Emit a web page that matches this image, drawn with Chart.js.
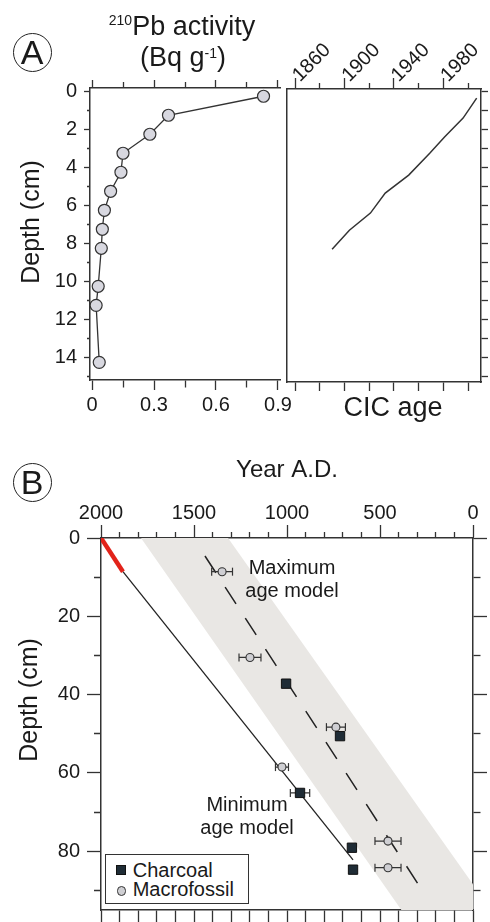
<!DOCTYPE html>
<html>
<head>
<meta charset="utf-8">
<title>210Pb profile and age models</title>
<script src="https://cdn.jsdelivr.net/npm/chart.js"></script>
<style>
  html, body { margin: 0; padding: 0; background: #fff; }
  body { width: 490px; height: 922px; position: relative; overflow: hidden;
         font-family: "Liberation Sans", Arial, sans-serif; color: #1a1a1a; }
  canvas { position: absolute; }
  .txt { position: absolute; white-space: nowrap; text-align: center; }
  .big { font-size: 27px; line-height: 30px; }
  .note { font-size: 20px; line-height: 23px; }
  .sup { font-size: 14px; position: relative; }
  .rot { transform: rotate(-90deg); font-size: 25px; line-height: 30px; width: 160px; height: 30px; }
  .badge { position: absolute; box-sizing: border-box; width: 39px; height: 39px; border: 1.3px solid #222;
           border-radius: 50%; font-size: 34px; line-height: 36px; text-align: center; }
  .legend { position: absolute; box-sizing: border-box; border: 1.3px solid #333; background: #fff; }
  .legend div { position: absolute; }
</style>
</head>
<body>
<canvas id="pbChart" width="300" height="430" style="left:0;top:0"></canvas>
<canvas id="cicChart" width="210" height="430" style="left:280px;top:0"></canvas>
<canvas id="ageChart" width="490" height="482" style="left:0;top:440px"></canvas>

<div class="badge" style="left:12.5px;top:33px">A</div>
<div class="txt big" style="left:90px;width:184px;top:11px"><span class="sup" style="top:-10px">210</span>Pb activity</div>
<div class="txt big" style="left:90px;width:186px;top:42px">(Bq g<span class="sup" style="top:-8px">-1</span>)</div>
<div class="txt rot" style="left:-50.5px;top:207px">Depth (cm)</div>
<div class="txt big" style="left:293px;width:200px;top:392px">CIC age</div>

<div class="badge" style="left:12.5px;top:463px">B</div>
<div class="txt rot" style="left:-52px;top:685px">Depth (cm)</div>
<div class="txt note" style="left:212px;width:160px;top:555.7px">Maximum<br>age model</div>
<div class="txt note" style="left:167px;width:160px;top:792.7px">Minimum<br>age model</div>
<div class="legend" style="left:105px;top:854px;width:144px;height:50px">
  <div style="left:10.4px;top:10.4px;width:10px;height:10px;box-sizing:border-box;background:#1f2c36;border:1px solid #111"></div>
  <div style="left:11px;top:31.3px;width:9.3px;height:9.3px;box-sizing:border-box;border-radius:50%;background:#cfcfd3;border:1.1px solid #333"></div>
  <div class="note" style="left:26.7px;top:4.4px">Charcoal</div>
  <div class="note" style="left:26.7px;top:23.4px">Macrofossil</div>
</div>

<script>
// ---- Panel A: 210Pb activity vs depth ----
const pbDepth = [0.25, 1.25, 2.25, 3.25, 4.25, 5.25, 6.25, 7.25, 8.25, 10.25, 11.25, 14.25];
const pbActivity = [0.83, 0.37, 0.28, 0.15, 0.14, 0.09, 0.06, 0.05, 0.045, 0.03, 0.02, 0.035];
const pbTicks = [0, 0.15, 0.3, 0.45, 0.6, 0.75, 0.9];
const pbTickLabels = ['0', '', '0.3', '', '0.6', '', '0.9'];

// CIC age model
const cicYear = [2007, 1996, 1981, 1969, 1952, 1933, 1921, 1904, 1890];
const cicDepth = [0.35, 1.4, 2.4, 3.25, 4.4, 5.35, 6.4, 7.3, 8.3];
const cicTicks = [1860, 1880, 1900, 1920, 1940, 1960, 1980, 2000];
const cicTickLabels = ['1860', '', '1900', '', '1940', '', '1980', ''];

const depthTicksA = [0, 1, 2, 3, 4, 5, 6, 7, 8, 9, 10, 11, 12, 13, 14, 15];
const depthLabelsA = ['0', '', '2', '', '4', '', '6', '', '8', '', '10', '', '12', '', '14', ''];

// ---- Panel B: age-depth models ----
const yearTicks = [0, 100, 200, 300, 400, 500, 600, 700, 800, 900, 1000,
                   1100, 1200, 1300, 1400, 1500, 1600, 1700, 1800, 1900, 2000];
const yearTickLabels = ['0', '', '', '', '', '500', '', '', '', '', '1000',
                        '', '', '', '', '1500', '', '', '', '', '2000'];
const depthTicksB = [0, 10, 20, 30, 40, 50, 60, 70, 80, 90];
const depthLabelsB = ['0', '', '20', '', '40', '', '60', '', '80', ''];

const charcoalYear = [1005, 715, 930, 651, 645];
const charcoalDepth = [37.2, 50.6, 65.1, 79.1, 84.7];
const charcoalErr = [0, 0, 52, 0, 0];

const macroYear = [1349, 1199, 737, 1027, 457, 457];
const macroDepth = [8.6, 30.5, 48.3, 58.5, 77.4, 84.2];
const macroErr = [56, 59, 51, 35, 70, 70];

const maxModelYear = [1441, 296];
const maxModelDepth = [4.6, 88.3];
const minModelYear = [1882, 645];
const minModelDepth = [8.6, 82.2];
const cicSegYear = [2000, 1882];
const cicSegDepth = [0, 8.6];
const bandYear = [1785, 385, -98, 1317];
const bandDepth = [0, 95, 95, 0];

Chart.defaults.font.family = '"Liberation Sans", Arial, sans-serif';
Chart.defaults.color = '#1a1a1a';

const xy = (xs, ys) => xs.map((x, i) => ({ x, y: ys[i] }));

function errorBars(xs, ys, errs) {
  const pts = [];
  xs.forEach((x, i) => {
    if (!errs[i]) return;
    pts.push({ x: x - errs[i], y: ys[i] }, { x: x + errs[i], y: ys[i] }, { x: null, y: null });
  });
  return pts;
}

// axis with fixed size; unlabelled ticks drawn shorter using a dash pattern
function makeAxis(o) {
  const outerFirst = o.position === 'left' || o.position === 'top';
  const minor = o.minor || o.major;
  const isMajor = i => !o.labels || o.labels[i] !== '';
  return {
    type: 'linear', position: o.position, min: o.min, max: o.max, reverse: !!o.reverse,
    afterBuildTicks: s => { s.ticks = o.ticks.map(v => ({ value: v })); },
    afterFit: s => {
      if (s.isHorizontal()) s.height = o.size; else s.width = o.size;
      s.paddingLeft = s.paddingRight = s.paddingTop = s.paddingBottom = 0;
    },
    border: { display: true, color: '#333', width: 1.5 },
    grid: {
      drawOnChartArea: false, drawTicks: o.major > 0, tickLength: o.major,
      tickColor: '#333', tickWidth: 1.3,
      tickBorderDash: c => (c.index === undefined || isMajor(c.index)) ? [] :
        (outerFirst ? [0, o.major - minor, minor, 1000] : [minor, 1000])
    },
    ticks: {
      display: !!o.showLabels, autoSkip: false, padding: o.pad === undefined ? 3 : o.pad,
      labelOffset: o.shift || 0,
      minRotation: o.rot || 0, maxRotation: o.rot || 0,
      font: { size: 20 }, color: '#1a1a1a',
      callback: (v, i) => o.labels ? o.labels[i] : ''
    },
    title: o.title || { display: false }
  };
}

const common = {
  responsive: false, animation: false, events: [],
  plugins: { legend: { display: false }, tooltip: { enabled: false } }
};

new Chart(document.getElementById('pbChart'), {
  type: 'line',
  data: {
    datasets: [{
      data: xy(pbActivity, pbDepth), xAxisID: 'x', yAxisID: 'y',
      borderColor: '#333', borderWidth: 1.3,
      pointRadius: 6, pointBackgroundColor: '#d8d8e0', pointBorderColor: '#333', pointBorderWidth: 1.2
    }]
  },
  options: Object.assign({}, common, {
    layout: { padding: { right: 20 } },
    scales: {
      x: makeAxis({ position: 'top', min: -0.0097, max: 0.9097, ticks: pbTicks, labels: pbTickLabels,
                    size: 88, major: 8, minor: 6 }),
      x2: makeAxis({ position: 'bottom', min: -0.0097, max: 0.9097, ticks: pbTicks, labels: pbTickLabels,
                     size: 50, major: 10, minor: 7, showLabels: true, pad: 3 }),
      y: makeAxis({ position: 'left', min: -0.184, max: 15.18, reverse: true, ticks: depthTicksA,
                    labels: depthLabelsA, size: 90, major: 6, minor: 3, showLabels: true, pad: 7 })
    }
  })
});

new Chart(document.getElementById('cicChart'), {
  type: 'line',
  data: {
    datasets: [{
      data: xy(cicYear, cicDepth), xAxisID: 'x', yAxisID: 'y',
      borderColor: '#333', borderWidth: 1.5, pointRadius: 0
    }]
  },
  options: Object.assign({}, common, {
    scales: {
      x: makeAxis({ position: 'top', min: 1853.5, max: 2010.5, ticks: cicTicks, labels: cicTickLabels,
                    size: 89, major: 11, minor: 6, showLabels: true, rot: 45, pad: -9, shift: 18 }),
      x2: makeAxis({ position: 'bottom', min: 1853.5, max: 2010.5, ticks: cicTicks, size: 48, major: 9 }),
      y: makeAxis({ position: 'left', min: -0.13, max: 15.29, reverse: true, ticks: depthTicksA, size: 7, major: 0 }),
      y2: makeAxis({ position: 'right', min: -0.13, max: 15.29, reverse: true, ticks: depthTicksA, size: 9, major: 7 })
    }
  })
});

new Chart(document.getElementById('ageChart'), {
  type: 'line',
  data: {
    datasets: [
      { data: xy(bandYear, bandDepth), fill: 'shape', backgroundColor: '#e9e7e4',
        borderColor: 'rgba(0,0,0,0)', borderWidth: 0, pointRadius: 0, order: 10 },
      { data: xy(maxModelYear, maxModelDepth), borderColor: '#222', borderWidth: 1.5,
        borderDash: [20, 17], pointRadius: 0, order: 6 },
      { data: xy(minModelYear, minModelDepth), borderColor: '#222', borderWidth: 1.3, pointRadius: 0, order: 6 },
      { data: xy(cicSegYear, cicSegDepth), borderColor: '#e2231a', borderWidth: 4.5, pointRadius: 0, order: 5 },
      { data: errorBars(macroYear, macroDepth, macroErr).concat(errorBars(charcoalYear, charcoalDepth, charcoalErr)),
        borderColor: '#333', borderWidth: 1.2, pointStyle: 'line', rotation: 90, pointRadius: 4,
        pointBorderColor: '#333', pointBorderWidth: 1.2, order: 4 },
      { data: xy(macroYear, macroDepth), showLine: false, pointStyle: 'circle', pointRadius: 4,
        pointBackgroundColor: '#cfcfd3', pointBorderColor: '#333', pointBorderWidth: 1.1, order: 3 },
      { data: xy(charcoalYear, charcoalDepth), showLine: false, pointStyle: 'rect', pointRadius: 6.6,
        pointBackgroundColor: '#1f2c36', pointBorderColor: '#111', pointBorderWidth: 1, order: 2 }
    ]
  },
  options: Object.assign({}, common, {
    scales: {
      x: makeAxis({ position: 'top', min: 0, max: 2000, reverse: true, ticks: yearTicks, labels: yearTickLabels,
                    size: 98, major: 13, minor: 6, showLabels: true, pad: 0,
                    title: { display: true, text: 'Year A.D.', font: { size: 24 }, color: '#1a1a1a',
                             padding: { top: 16, bottom: 0 } } }),
      x2: makeAxis({ position: 'bottom', min: 0, max: 2000, reverse: true, ticks: yearTicks, size: 12, major: 12 }),
      y: makeAxis({ position: 'left', min: 0, max: 95, reverse: true, ticks: depthTicksB, labels: depthLabelsB,
                    size: 101, major: 14, minor: 7, showLabels: true, pad: 7 }),
      y2: makeAxis({ position: 'right', min: 0, max: 95, reverse: true, ticks: depthTicksB, labels: depthLabelsB,
                     size: 17, major: 14, minor: 7 })
    }
  })
});
</script>
</body>
</html>
